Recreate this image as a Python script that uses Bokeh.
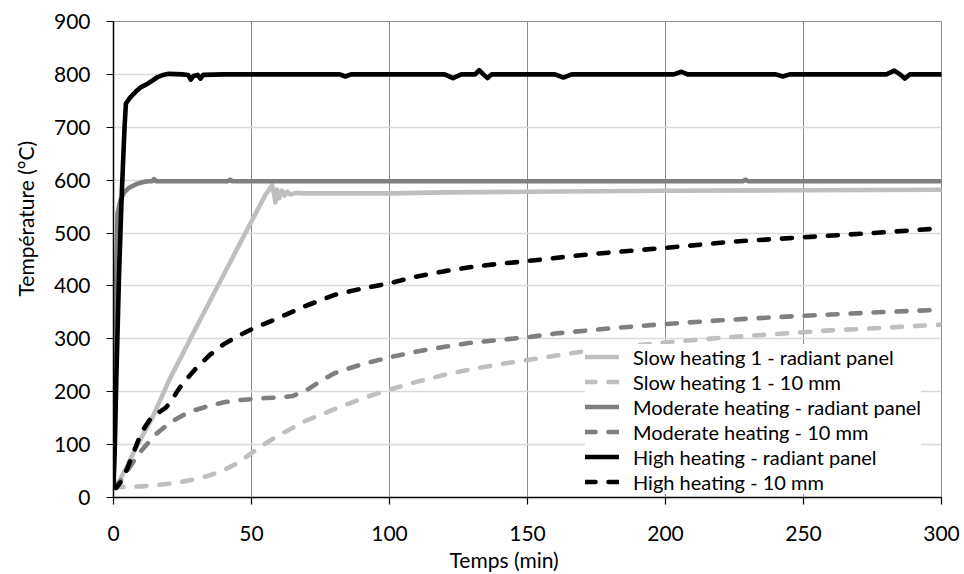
import numpy as np
from bokeh.plotting import figure
from bokeh.models import Range1d, FixedTicker, Legend, LegendItem, Title
from bokeh.embed import file_html
from bokeh.resources import INLINE

# ---------------- data ----------------
x_ticks = [0, 50, 100, 150, 200, 250, 300]
y_ticks = [0, 100, 200, 300, 400, 500, 600, 700, 800, 900]

series_labels = [
    "Slow heating 1 - radiant panel",
    "Slow heating 1 - 10 mm",
    "Moderate heating - radiant panel",
    "Moderate heating - 10 mm",
    "High heating - radiant panel",
    "High heating - 10 mm",
]

slow_rp_x = [0, 2, 5, 8, 14, 20, 30, 40, 50, 55, 57.5, 58.3, 58.7, 59.3, 60, 61, 62, 63,
             64, 66, 70, 100, 120, 150, 200, 250, 300]
slow_rp_t = [20, 30, 60, 93, 150, 220, 322, 422, 522, 572, 590, 570, 558, 582, 566, 580, 571, 578,
             573, 576, 575, 575, 577, 578, 580, 581, 582]

slow_10_x = [0, 5, 10, 15, 20, 25, 30, 35, 40, 45, 50, 55, 60, 65, 70, 80, 90, 100, 110, 120,
             130, 140, 150, 160, 170, 180, 190, 200, 220, 240, 260, 280, 300]
slow_10_t = [20, 20, 21, 23, 26, 30, 35, 42, 52, 65, 84, 102, 118, 132, 146, 167, 187, 204, 219, 232,
             243, 252, 260, 268, 276, 283, 288, 293, 302, 309, 316, 321, 327]

mod_rp_x = [0, 0.5, 1, 1.45, 2.5, 3.9, 5.5, 6.9, 8.5, 10.5, 12.5, 14, 14.7, 15.5, 41.5, 42.3, 43,
            228, 229, 230, 300]
mod_rp_t = [20, 180, 420, 536, 562, 577, 585, 589, 593, 596, 598, 598, 602, 598, 598, 601, 598,
            598, 601, 598, 598]

mod_10_x = [0, 2, 4, 6, 8, 10, 12, 15, 20, 25, 30, 35, 40, 45, 50, 55, 60, 65, 70, 75, 80, 90,
            100, 110, 120, 130, 140, 150, 160, 180, 200, 220, 240, 260, 280, 300]
mod_10_t = [20, 28, 42, 58, 74, 88, 100, 118, 140, 155, 166, 174, 180, 184, 186, 188, 189, 192, 203,
            220, 235, 252, 265, 276, 285, 293, 298, 303, 310, 320, 328, 335, 341, 346, 351, 355]

high_rp_x = [0, 0.5, 1, 2, 3, 4, 4.5, 6, 8, 10, 12, 14, 16, 18, 20, 25, 27, 28, 29, 30.5, 31.5, 32.5,
             40, 60, 82, 84, 86, 100, 120, 123, 126, 131, 132.5, 134, 135.5, 137, 160, 163, 166,
             203, 205.8, 208, 240, 242.5, 245, 280, 282.9, 285, 286.7, 288.5, 300]
high_rp_t = [20, 100, 220, 420, 575, 700, 745, 756, 767, 776, 781, 788, 795, 799, 801, 800, 799, 790,
             797, 799, 792, 799, 800, 800, 800, 796, 800, 800, 800, 793, 800, 800, 808, 800, 793, 800,
             800, 794, 800, 800, 805, 800, 800, 796, 800, 800, 807, 800, 792, 800, 800]

high_10_x = [0, 1, 3, 5, 7, 9, 11, 13, 15, 17, 19, 21, 23, 25, 30, 35, 40, 45, 50, 60, 70, 80, 90,
             100, 110, 120, 130, 140, 150, 160, 175, 200, 225, 250, 275, 300]
high_10_t = [20, 18, 32, 55, 82, 108, 130, 146, 156, 163, 170, 183, 200, 215, 245, 270, 290, 305, 318,
             340, 363, 383, 395, 405, 418, 428, 436, 442, 447, 453, 461, 472, 484, 492, 500, 509]

x_title = "Temps (min)"
y_title = "Température (°C)"

# ---------------- styling ----------------
FONT = "Lato"
LIGHT = "#bfbfbf"
MID = "#7f7f7f"
DARK = "#000000"
DASH = "10 13"
LW = 4.6

p = figure(width=964, height=574, output_backend="svg", toolbar_location=None,
           x_range=Range1d(0, 300), y_range=Range1d(0, 900),
           min_border_left=111, min_border_right=23, min_border_top=21, min_border_bottom=77)
p.background_fill_color = "white"
p.border_fill_color = "white"
p.outline_line_color = "#8c8c8c"
p.outline_line_width = 1

for ax, ticks in ((p.xaxis, x_ticks), (p.yaxis, y_ticks)):
    ax.ticker = FixedTicker(ticks=ticks)
    ax.major_label_text_font = FONT
    ax.major_label_text_font_size = "21px"
    ax.major_label_text_color = "#000000"
    ax.axis_line_color = "#000000"
    ax.axis_line_width = 1.5
    ax.major_tick_line_color = "#000000"
    ax.major_tick_line_width = 1.2
    ax.major_tick_in = 0
    ax.major_tick_out = 7
    ax.minor_tick_line_color = None

p.xaxis.major_label_standoff = 21
p.yaxis.major_label_standoff = 16

p.xgrid.grid_line_color = "#8c8c8c"
p.xgrid.grid_line_width = 1
p.ygrid.grid_line_color = "#d9d9d9"
p.ygrid.grid_line_width = 1.5

common = dict(line_width=LW, line_cap="round", line_join="round")
r1 = p.line(slow_rp_x, slow_rp_t, line_color=LIGHT, **common)
r2 = p.line(slow_10_x, slow_10_t, line_color=LIGHT, line_dash=DASH, **common)
r3 = p.line(mod_rp_x, mod_rp_t, line_color=MID, **common)
r4 = p.line(mod_10_x, mod_10_t, line_color=MID, line_dash=DASH, **common)
r5 = p.line(high_rp_x, high_rp_t, line_color=DARK, **common)
r6 = p.line(high_10_x, high_10_t, line_color=DARK, line_dash=DASH, **common)

items = [LegendItem(label=lab, renderers=[r]) for lab, r in zip(series_labels, [r1, r2, r3, r4, r5, r6])]
legend = Legend(items=items, location=(472, 3), orientation="vertical",
                label_text_font=FONT, label_text_font_size="20px", label_text_color="#000000",
                glyph_width=34, glyph_height=25, label_height=25, label_standoff=14,
                spacing=0, padding=3, margin=0,
                border_line_color=None, background_fill_color="white", background_fill_alpha=1.0)
p.add_layout(legend)

xt = Title(text=x_title, align="left", offset=336, vertical_align="middle",
           text_font=FONT, text_font_size="21px", text_font_style="normal", text_color="#000000")
yt = Title(text=y_title, align="left", offset=201, vertical_align="middle",
           text_font=FONT, text_font_size="21px", text_font_style="normal", text_color="#000000")
for t, so in ((xt, 4), (yt, 23)):
    try:
        t.standoff = so
    except Exception:
        pass
p.add_layout(xt, "below")
p.add_layout(yt, "left")

open("out.html", "w", encoding="utf-8").write(file_html(p, INLINE))
